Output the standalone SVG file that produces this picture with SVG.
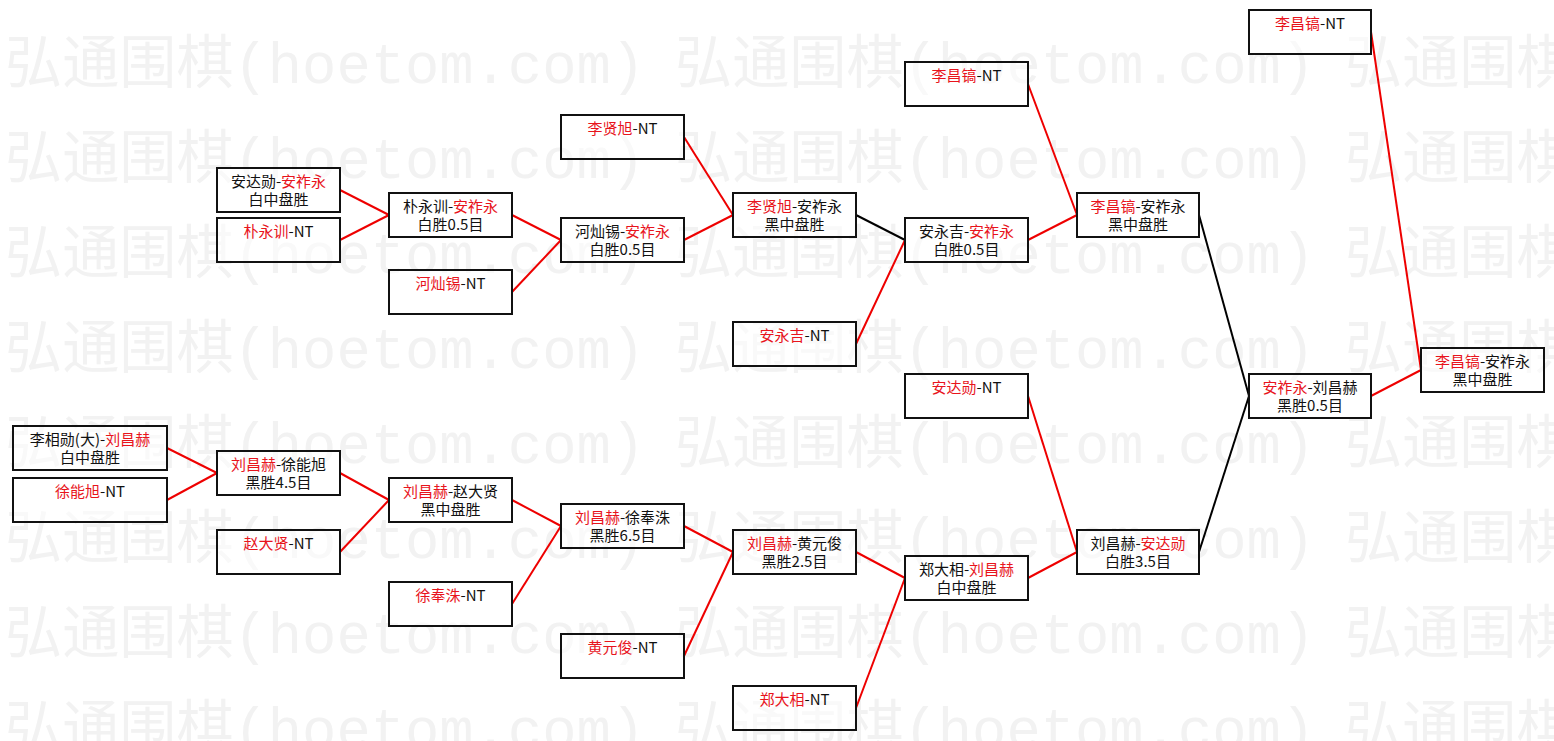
<svg xmlns="http://www.w3.org/2000/svg" width="1554" height="741" viewBox="0 0 1554 741">
<style>
.wm{font-family:"Liberation Mono","Noto Sans CJK SC",monospace;font-size:58px;fill:#f2f2f2}
.box{fill:#ffffff;fill-opacity:0.5;stroke:#111;stroke-width:2}
.t{font-family:"Noto Sans CJK SC",sans-serif;font-size:15px;fill:#111;text-anchor:middle}
.r{fill:#e8141c}
.cr{stroke:#ee0000;stroke-width:2;fill:none}
.cb{stroke:#000;stroke-width:2;fill:none}
</style>
<rect width="1554" height="741" fill="#fff"/>
<g id="watermark">
<text class="wm" x="5" y="83" textLength="640" lengthAdjust="spacingAndGlyphs">弘通围棋(hoetom.com)</text>
<text class="wm" x="675" y="83" textLength="640" lengthAdjust="spacingAndGlyphs">弘通围棋(hoetom.com)</text>
<text class="wm" x="1345" y="83" textLength="640" lengthAdjust="spacingAndGlyphs">弘通围棋(hoetom.com)</text>
<text class="wm" x="5" y="178" textLength="640" lengthAdjust="spacingAndGlyphs">弘通围棋(hoetom.com)</text>
<text class="wm" x="675" y="178" textLength="640" lengthAdjust="spacingAndGlyphs">弘通围棋(hoetom.com)</text>
<text class="wm" x="1345" y="178" textLength="640" lengthAdjust="spacingAndGlyphs">弘通围棋(hoetom.com)</text>
<text class="wm" x="5" y="273" textLength="640" lengthAdjust="spacingAndGlyphs">弘通围棋(hoetom.com)</text>
<text class="wm" x="675" y="273" textLength="640" lengthAdjust="spacingAndGlyphs">弘通围棋(hoetom.com)</text>
<text class="wm" x="1345" y="273" textLength="640" lengthAdjust="spacingAndGlyphs">弘通围棋(hoetom.com)</text>
<text class="wm" x="5" y="368" textLength="640" lengthAdjust="spacingAndGlyphs">弘通围棋(hoetom.com)</text>
<text class="wm" x="675" y="368" textLength="640" lengthAdjust="spacingAndGlyphs">弘通围棋(hoetom.com)</text>
<text class="wm" x="1345" y="368" textLength="640" lengthAdjust="spacingAndGlyphs">弘通围棋(hoetom.com)</text>
<text class="wm" x="5" y="463" textLength="640" lengthAdjust="spacingAndGlyphs">弘通围棋(hoetom.com)</text>
<text class="wm" x="675" y="463" textLength="640" lengthAdjust="spacingAndGlyphs">弘通围棋(hoetom.com)</text>
<text class="wm" x="1345" y="463" textLength="640" lengthAdjust="spacingAndGlyphs">弘通围棋(hoetom.com)</text>
<text class="wm" x="5" y="558" textLength="640" lengthAdjust="spacingAndGlyphs">弘通围棋(hoetom.com)</text>
<text class="wm" x="675" y="558" textLength="640" lengthAdjust="spacingAndGlyphs">弘通围棋(hoetom.com)</text>
<text class="wm" x="1345" y="558" textLength="640" lengthAdjust="spacingAndGlyphs">弘通围棋(hoetom.com)</text>
<text class="wm" x="5" y="653" textLength="640" lengthAdjust="spacingAndGlyphs">弘通围棋(hoetom.com)</text>
<text class="wm" x="675" y="653" textLength="640" lengthAdjust="spacingAndGlyphs">弘通围棋(hoetom.com)</text>
<text class="wm" x="1345" y="653" textLength="640" lengthAdjust="spacingAndGlyphs">弘通围棋(hoetom.com)</text>
<text class="wm" x="5" y="748" textLength="640" lengthAdjust="spacingAndGlyphs">弘通围棋(hoetom.com)</text>
<text class="wm" x="675" y="748" textLength="640" lengthAdjust="spacingAndGlyphs">弘通围棋(hoetom.com)</text>
<text class="wm" x="1345" y="748" textLength="640" lengthAdjust="spacingAndGlyphs">弘通围棋(hoetom.com)</text>
</g>
<g id="connectors">
<path class="cr" d="M167,448L217,473"/>
<path class="cr" d="M167,500L217,473"/>
<path class="cr" d="M340,190L389,215"/>
<path class="cr" d="M340,240L389,215"/>
<path class="cr" d="M340,473L389,500"/>
<path class="cr" d="M340,552L389,500"/>
<path class="cr" d="M512,215L561,240"/>
<path class="cr" d="M512,292L561,240"/>
<path class="cr" d="M512,500L561,526"/>
<path class="cr" d="M512,604L561,526"/>
<path class="cr" d="M684,137L733,215"/>
<path class="cr" d="M684,240L733,215"/>
<path class="cr" d="M684,526L733,552"/>
<path class="cr" d="M684,656L733,552"/>
<path class="cb" d="M856,215L905,240"/>
<path class="cr" d="M856,344L905,240"/>
<path class="cr" d="M856,552L905,578"/>
<path class="cr" d="M856,708L905,578"/>
<path class="cr" d="M1028,84L1077,215"/>
<path class="cr" d="M1028,240L1077,215"/>
<path class="cr" d="M1028,396L1077,552"/>
<path class="cr" d="M1028,578L1077,552"/>
<path class="cb" d="M1199,215L1249,396"/>
<path class="cb" d="M1199,552L1249,396"/>
<path class="cr" d="M1371,32L1421,370"/>
<path class="cr" d="M1371,396L1421,370"/>
</g>
<g id="n1a"><rect class="box" x="13" y="426" width="154" height="44"/><text class="t" x="90" y="445">李相勋(大)-<tspan class="r">刘昌赫</tspan></text><text class="t" x="90" y="463">白中盘胜</text></g>
<g id="n1b"><rect class="box" x="13" y="478" width="154" height="44"/><text class="t" x="90" y="497"><tspan class="r">徐能旭</tspan>-NT</text></g>
<g id="n2a"><rect class="box" x="217" y="168" width="123" height="44"/><text class="t" x="278.5" y="187">安达勋-<tspan class="r">安祚永</tspan></text><text class="t" x="278.5" y="205">白中盘胜</text></g>
<g id="n2b"><rect class="box" x="217" y="218" width="123" height="44"/><text class="t" x="278.5" y="237"><tspan class="r">朴永训</tspan>-NT</text></g>
<g id="n2c"><rect class="box" x="217" y="451" width="123" height="44"/><text class="t" x="278.5" y="470"><tspan class="r">刘昌赫</tspan>-徐能旭</text><text class="t" x="278.5" y="488">黑胜4.5目</text></g>
<g id="n2d"><rect class="box" x="217" y="530" width="123" height="44"/><text class="t" x="278.5" y="549"><tspan class="r">赵大贤</tspan>-NT</text></g>
<g id="n3a"><rect class="box" x="389" y="193" width="123" height="44"/><text class="t" x="450.5" y="212">朴永训-<tspan class="r">安祚永</tspan></text><text class="t" x="450.5" y="230">白胜0.5目</text></g>
<g id="n3b"><rect class="box" x="389" y="270" width="123" height="44"/><text class="t" x="450.5" y="289"><tspan class="r">河灿锡</tspan>-NT</text></g>
<g id="n3c"><rect class="box" x="389" y="478" width="123" height="44"/><text class="t" x="450.5" y="497"><tspan class="r">刘昌赫</tspan>-赵大贤</text><text class="t" x="450.5" y="515">黑中盘胜</text></g>
<g id="n3d"><rect class="box" x="389" y="582" width="123" height="44"/><text class="t" x="450.5" y="601"><tspan class="r">徐奉洙</tspan>-NT</text></g>
<g id="n4a"><rect class="box" x="561" y="115" width="123" height="44"/><text class="t" x="622.5" y="134"><tspan class="r">李贤旭</tspan>-NT</text></g>
<g id="n4b"><rect class="box" x="561" y="218" width="123" height="44"/><text class="t" x="622.5" y="237">河灿锡-<tspan class="r">安祚永</tspan></text><text class="t" x="622.5" y="255">白胜0.5目</text></g>
<g id="n4c"><rect class="box" x="561" y="504" width="123" height="44"/><text class="t" x="622.5" y="523"><tspan class="r">刘昌赫</tspan>-徐奉洙</text><text class="t" x="622.5" y="541">黑胜6.5目</text></g>
<g id="n4d"><rect class="box" x="561" y="634" width="123" height="44"/><text class="t" x="622.5" y="653"><tspan class="r">黄元俊</tspan>-NT</text></g>
<g id="n5a"><rect class="box" x="733" y="193" width="123" height="44"/><text class="t" x="794.5" y="212"><tspan class="r">李贤旭</tspan>-安祚永</text><text class="t" x="794.5" y="230">黑中盘胜</text></g>
<g id="n5b"><rect class="box" x="733" y="322" width="123" height="44"/><text class="t" x="794.5" y="341"><tspan class="r">安永吉</tspan>-NT</text></g>
<g id="n5c"><rect class="box" x="733" y="530" width="123" height="44"/><text class="t" x="794.5" y="549"><tspan class="r">刘昌赫</tspan>-黄元俊</text><text class="t" x="794.5" y="567">黑胜2.5目</text></g>
<g id="n5d"><rect class="box" x="733" y="686" width="123" height="44"/><text class="t" x="794.5" y="705"><tspan class="r">郑大相</tspan>-NT</text></g>
<g id="n6a"><rect class="box" x="905" y="62" width="123" height="44"/><text class="t" x="966.5" y="81"><tspan class="r">李昌镐</tspan>-NT</text></g>
<g id="n6b"><rect class="box" x="905" y="218" width="123" height="44"/><text class="t" x="966.5" y="237">安永吉-<tspan class="r">安祚永</tspan></text><text class="t" x="966.5" y="255">白胜0.5目</text></g>
<g id="n6c"><rect class="box" x="905" y="374" width="123" height="44"/><text class="t" x="966.5" y="393"><tspan class="r">安达勋</tspan>-NT</text></g>
<g id="n6d"><rect class="box" x="905" y="556" width="123" height="44"/><text class="t" x="966.5" y="575">郑大相-<tspan class="r">刘昌赫</tspan></text><text class="t" x="966.5" y="593">白中盘胜</text></g>
<g id="n7a"><rect class="box" x="1077" y="193" width="122" height="44"/><text class="t" x="1138" y="212"><tspan class="r">李昌镐</tspan>-安祚永</text><text class="t" x="1138" y="230">黑中盘胜</text></g>
<g id="n7b"><rect class="box" x="1077" y="530" width="122" height="44"/><text class="t" x="1138" y="549">刘昌赫-<tspan class="r">安达勋</tspan></text><text class="t" x="1138" y="567">白胜3.5目</text></g>
<g id="n8a"><rect class="box" x="1249" y="10" width="122" height="44"/><text class="t" x="1310" y="29"><tspan class="r">李昌镐</tspan>-NT</text></g>
<g id="n8b"><rect class="box" x="1249" y="374" width="122" height="44"/><text class="t" x="1310" y="393"><tspan class="r">安祚永</tspan>-刘昌赫</text><text class="t" x="1310" y="411">黑胜0.5目</text></g>
<g id="n9"><rect class="box" x="1421" y="348" width="123" height="44"/><text class="t" x="1482.5" y="367"><tspan class="r">李昌镐</tspan>-安祚永</text><text class="t" x="1482.5" y="385">黑中盘胜</text></g>
</svg>
